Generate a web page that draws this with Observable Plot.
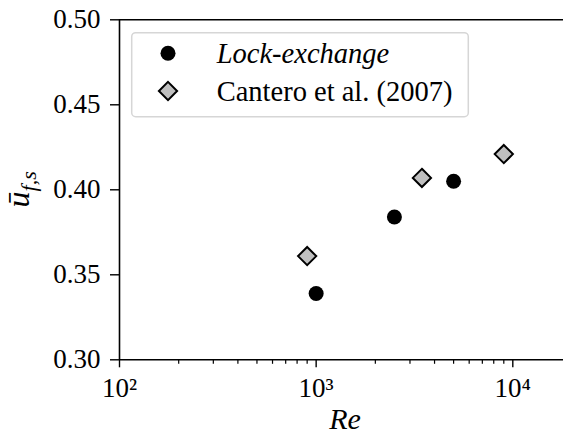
<!DOCTYPE html>
<html>
<head>
<meta charset="utf-8">
<script src="https://cdn.jsdelivr.net/npm/d3@7"></script>
<script src="https://cdn.jsdelivr.net/npm/@observablehq/plot@0.6"></script>
<style>
  html, body { margin: 0; padding: 0; background: white; }
  svg { display: block; }
  svg text, svg tspan { font-family: "Liberation Serif", serif !important; }
</style>
</head>
<body>
<div id="chart"></div>
<script>
// ---- data ----
const seriesNames = ["Lock-exchange", "Cantero et al. (2007)"];
const lockRe = [1000, 2500, 5000];
const lockU = [0.339, 0.384, 0.405];
const canteroRe = [900, 3450, 9000];
const canteroU = [0.361, 0.407, 0.421];
const yTicks = [0.30, 0.35, 0.40, 0.45, 0.50];
const xMajorTicks = [100, 1000, 10000];
const xTickLabels = ["10²", "10³", "10⁴"];
const xMinorTicks = [200, 300, 400, 500, 600, 700, 800, 900,
                     2000, 3000, 4000, 5000, 6000, 7000, 8000, 9000];
const xLabel = "Re";
const yLabelMain = "ū";
const yLabelSub = "f,s";

const lockData = lockRe.map((r, i) => ({Re: r, u: lockU[i]}));
const canteroData = canteroRe.map((r, i) => ({Re: r, u: canteroU[i]}));

const W = 563, H = 437;
const mL = 119, mT = 19.3, mB = 77.7, mR = -8.5;
const FONT = "Liberation Serif";

const chart = Plot.plot({
  width: W, height: H,
  marginLeft: mL, marginRight: mR, marginTop: mT, marginBottom: mB,
  style: {fontFamily: FONT, fontSize: "27px", color: "black", background: "white"},
  x: {type: "log", domain: [100, 20000], label: null},
  y: {domain: [0.3, 0.5], label: null},
  marks: [
    Plot.axisX(xMinorTicks, {tickSize: 4.5, strokeWidth: 1.2, tickFormat: () => "", label: null}),
    Plot.axisX(xMajorTicks, {tickSize: 8, tickPadding: 10, strokeWidth: 1.4,
      tickFormat: d => xTickLabels[xMajorTicks.indexOf(d)], label: null}),
    Plot.axisY(yTicks, {tickSize: 9, tickPadding: 10, strokeWidth: 1.4,
      tickFormat: d => d.toFixed(2), label: null}),
    Plot.ruleY([0.3], {stroke: "black", strokeWidth: 1.6}),
    Plot.ruleY([0.5], {stroke: "black", strokeWidth: 1.6}),
    Plot.ruleX([100], {stroke: "black", strokeWidth: 1.6}),
    Plot.dot(lockData, {x: "Re", y: "u", r: 7.5, fill: "black", stroke: "none"}),
    Plot.dot(canteroData, {x: "Re", y: "u", symbol: "diamond2", r: 8.2,
      fill: "#bfbfbf", stroke: "black", strokeWidth: 2})
  ]
});

document.getElementById("chart").appendChild(chart);

const svg = d3.select(chart);

// x label
svg.append("text")
  .attr("x", 345).attr("y", 429)
  .attr("text-anchor", "middle")
  .attr("font-family", FONT).attr("font-size", 30)
  .attr("font-style", "italic")
  .attr("fill", "black")
  .text(xLabel);

// y label
const yl = svg.append("text")
  .attr("transform", `translate(29,${(mT + (H - mB)) / 2}) rotate(-90)`)
  .attr("text-anchor", "middle")
  .attr("font-family", FONT).attr("font-size", 32)
  .attr("font-style", "italic")
  .attr("fill", "black");
yl.append("tspan").text(yLabelMain);
yl.append("tspan").attr("font-size", 22).attr("dy", 7).text(yLabelSub);

// legend
const lg = svg.append("g");
lg.append("rect")
  .attr("x", 131.7).attr("y", 32.7).attr("width", 336.6).attr("height", 84)
  .attr("rx", 4).attr("fill", "white").attr("fill-opacity", 0.85)
  .attr("stroke", "#d6d6d6").attr("stroke-width", 1.5);
const rows = [
  {name: seriesNames[0], y: 53.3, symbol: d3.symbolCircle, r: 7.5, fill: "black", stroke: "none", italic: true},
  {name: seriesNames[1], y: 91, symbol: d3.symbolDiamond2, r: 8.2, fill: "#bfbfbf", stroke: "black", italic: false}
];
rows.forEach(row => {
  lg.append("path")
    .attr("transform", `translate(168,${row.y})`)
    .attr("d", d3.symbol(row.symbol, Math.PI * row.r * row.r)())
    .attr("fill", row.fill).attr("stroke", row.stroke).attr("stroke-width", 2);
  lg.append("text")
    .attr("x", 216.7).attr("y", row.y + 9.5)
    .attr("text-anchor", "start")
    .attr("font-family", FONT).attr("font-size", 28.5)
    .attr("font-style", row.italic ? "italic" : "normal")
    .attr("fill", "black")
    .text(row.name);
});
</script>
</body>
</html>
